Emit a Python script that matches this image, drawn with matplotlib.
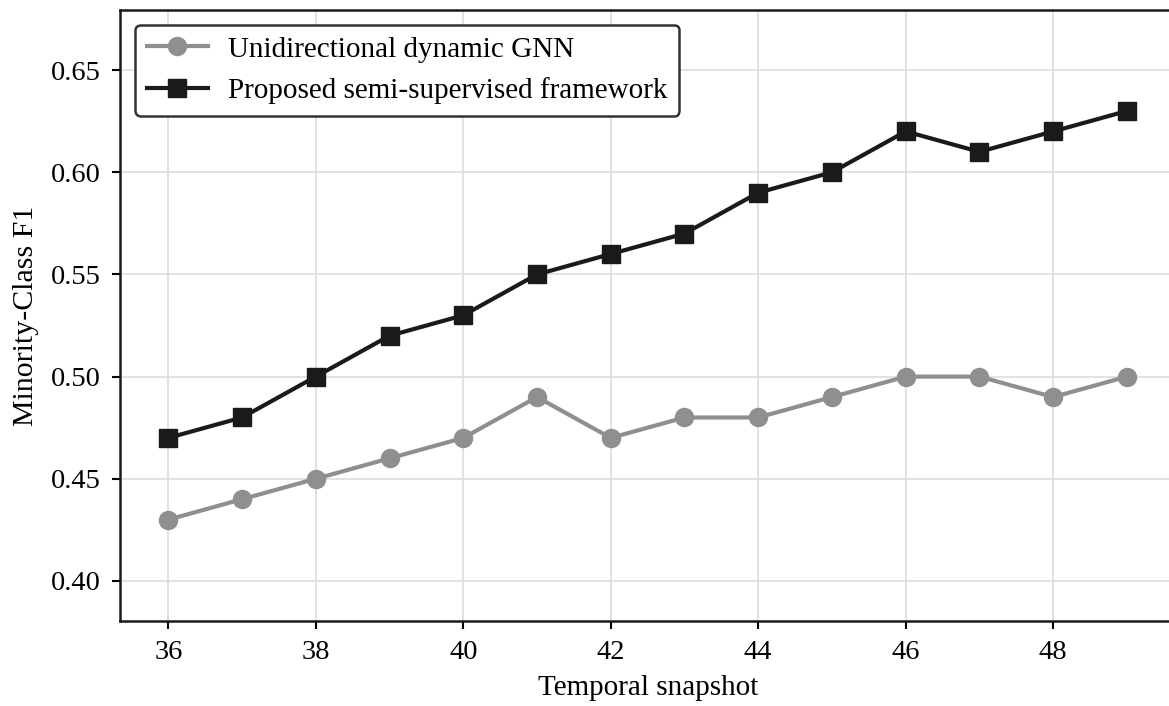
import matplotlib
matplotlib.use('Agg')
import matplotlib.pyplot as plt

snapshots = [36, 37, 38, 39, 40, 41, 42, 43, 44, 45, 46, 47, 48, 49]
baseline_f1 = [0.43, 0.44, 0.45, 0.46, 0.47, 0.49, 0.47, 0.48, 0.48, 0.49, 0.50, 0.50, 0.49, 0.50]
proposed_f1 = [0.47, 0.48, 0.50, 0.52, 0.53, 0.55, 0.56, 0.57, 0.59, 0.60, 0.62, 0.61, 0.62, 0.63]
xticks = [36, 38, 40, 42, 44, 46, 48]
yticks = [0.40, 0.45, 0.50, 0.55, 0.60, 0.65]

plt.rcParams['font.family'] = ['Liberation Serif', 'DejaVu Serif']

fig = plt.figure(figsize=(11.69, 7.06), dpi=100)
ax = fig.add_axes([0.1030, 0.1204, 0.902, 0.8654])

ax.plot(snapshots, baseline_f1, 'o-', color='#8f8f8f', lw=3, ms=13,
        label='Unidirectional dynamic GNN')
ax.plot(snapshots, proposed_f1, 's-', color='#1a1a1a', lw=3, ms=12.5,
        label='Proposed semi-supervised framework')

ax.set_xlim(35.35, 49.65)
ax.set_ylim(0.3804, 0.6794)
ax.set_xticks(xticks)
ax.set_yticks(yticks)
ax.set_yticklabels([f"{v:.2f}" for v in yticks])
ax.tick_params(labelsize=20.5, length=6, width=1.5, pad=8)
ax.set_xlabel('Temporal snapshot', fontsize=21, labelpad=7)
ax.set_ylabel('Minority-Class F1', fontsize=21.5, labelpad=9)
ax.grid(True, color='#dddddd', lw=1.2)
ax.set_axisbelow(True)
for s in ax.spines.values():
    s.set_linewidth(1.8)
    s.set_color('#1a1a1a')

leg = ax.legend(loc='upper left', fontsize=21, frameon=True, fancybox=True,
                edgecolor='#333333', framealpha=1, handlelength=2.1,
                handletextpad=0.7)
leg.get_frame().set_linewidth(1.8)

fig.savefig('out.png', dpi=100)
